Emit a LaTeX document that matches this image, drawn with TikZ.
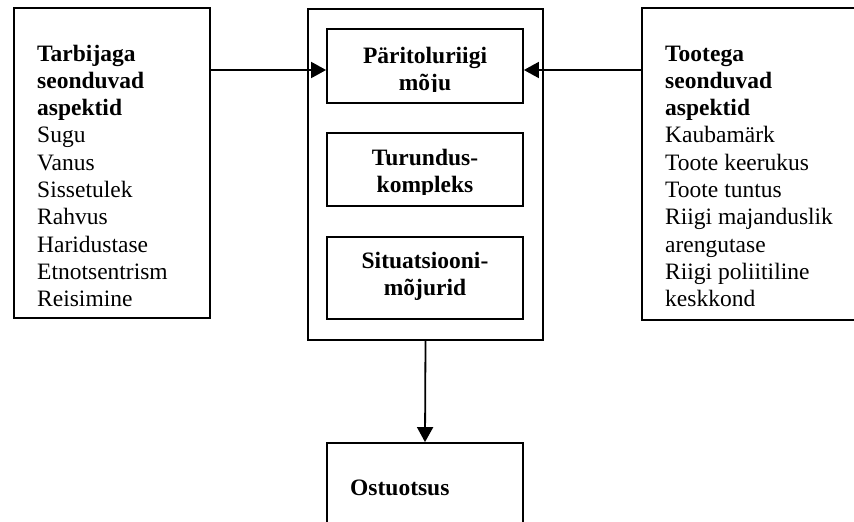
\documentclass[tikz,border=0pt]{standalone}
\usepackage{fontspec}
\setmainfont{Liberation Serif}
\usetikzlibrary{arrows.meta}
\tikzset{
  box/.style={draw, line width=1.8pt, inner sep=0pt},
  arr/.style={line width=1.8pt, -{Triangle[length=15pt,width=16pt]}},
  txt/.style={inner sep=0pt, font=\fontsize{23.5}{27.3}\selectfont},
  btxt/.style={txt, font=\fontsize{23.5}{27.3}\selectfont\bfseries},
}
\begin{document}
\begin{tikzpicture}[x=1pt,y=-1pt]
  \clip (0,0) rectangle (854,522);
  % boxes
  \node[box, minimum width=196pt, minimum height=310pt] (tarbija) at (112,163) {};
  \node[box, minimum width=235pt, minimum height=331pt] (tegurid) at (425.5,174.5) {};
  \node[box, minimum width=196pt, minimum height=74pt] (paritolu) at (425,66) {};
  \node[box, minimum width=196pt, minimum height=73pt] (turundus) at (425,169.5) {};
  \node[box, minimum width=196pt, minimum height=82pt] (situats) at (425,278) {};
  \node[box, minimum width=230pt, minimum height=312pt] (toode) at (757,164) {};
  \node[box, minimum width=196pt, minimum height=97pt] (otsus) at (425,491.5) {};
  % texts (anchored at the last line), cut off at the lower edge like in the text boxes
  \begin{scope}
    \clip ([yshift=12pt]tarbija.south west) rectangle (tarbija.north east);
    \node[txt, anchor=base west, align=left] (tarbijatxt) at (37,306.7)
      {\textbf{Tarbijaga}\\\textbf{seonduvad}\\\textbf{aspektid}\\Sugu\\Vanus\\Sissetulek\\Rahvus\\Haridustase\\Etnotsentrism\\Reisimine};
  \end{scope}
  \begin{scope}
    \clip ([yshift=12pt]toode.south west) rectangle (toode.north east);
    \node[txt, anchor=base west, align=left] (toodetxt) at (665,306.7)
      {\textbf{Tootega}\\\textbf{seonduvad}\\\textbf{aspektid}\\Kaubamärk\\Toote keerukus\\Toote tuntus\\Riigi majanduslik\\arengutase\\Riigi poliitiline\\keskkond};
  \end{scope}
  \begin{scope}
    \clip ([yshift=12pt]paritolu.south west) rectangle (paritolu.north east);
    \node[btxt, anchor=base, align=center] (paritolutxt) at (425,90.3) {Päritoluriigi\\mõju};
  \end{scope}
  \begin{scope}
    \clip ([yshift=12pt]turundus.south west) rectangle (turundus.north east);
    \node[btxt, anchor=base, align=center] (turundustxt) at (425,192.3) {Turundus-\\kompleks};
  \end{scope}
  \node[btxt, anchor=base, align=center] (situatstxt) at (425,295.3) {Situatsiooni-\\mõjurid};
  \node[btxt, anchor=base west] (otsustxt) at (350,495) {Ostuotsus};
  % connectors
  \draw[arr] ([yshift=-4pt]tarbija.east |- paritolu.west) -- ([yshift=-4pt]paritolu.west);
  \draw[arr] ([yshift=-4pt]toode.west |- paritolu.east) -- ([yshift=-4pt]paritolu.east);
  \draw[arr] (tegurid.south) -- (otsus.north);
\end{tikzpicture}
\end{document}
